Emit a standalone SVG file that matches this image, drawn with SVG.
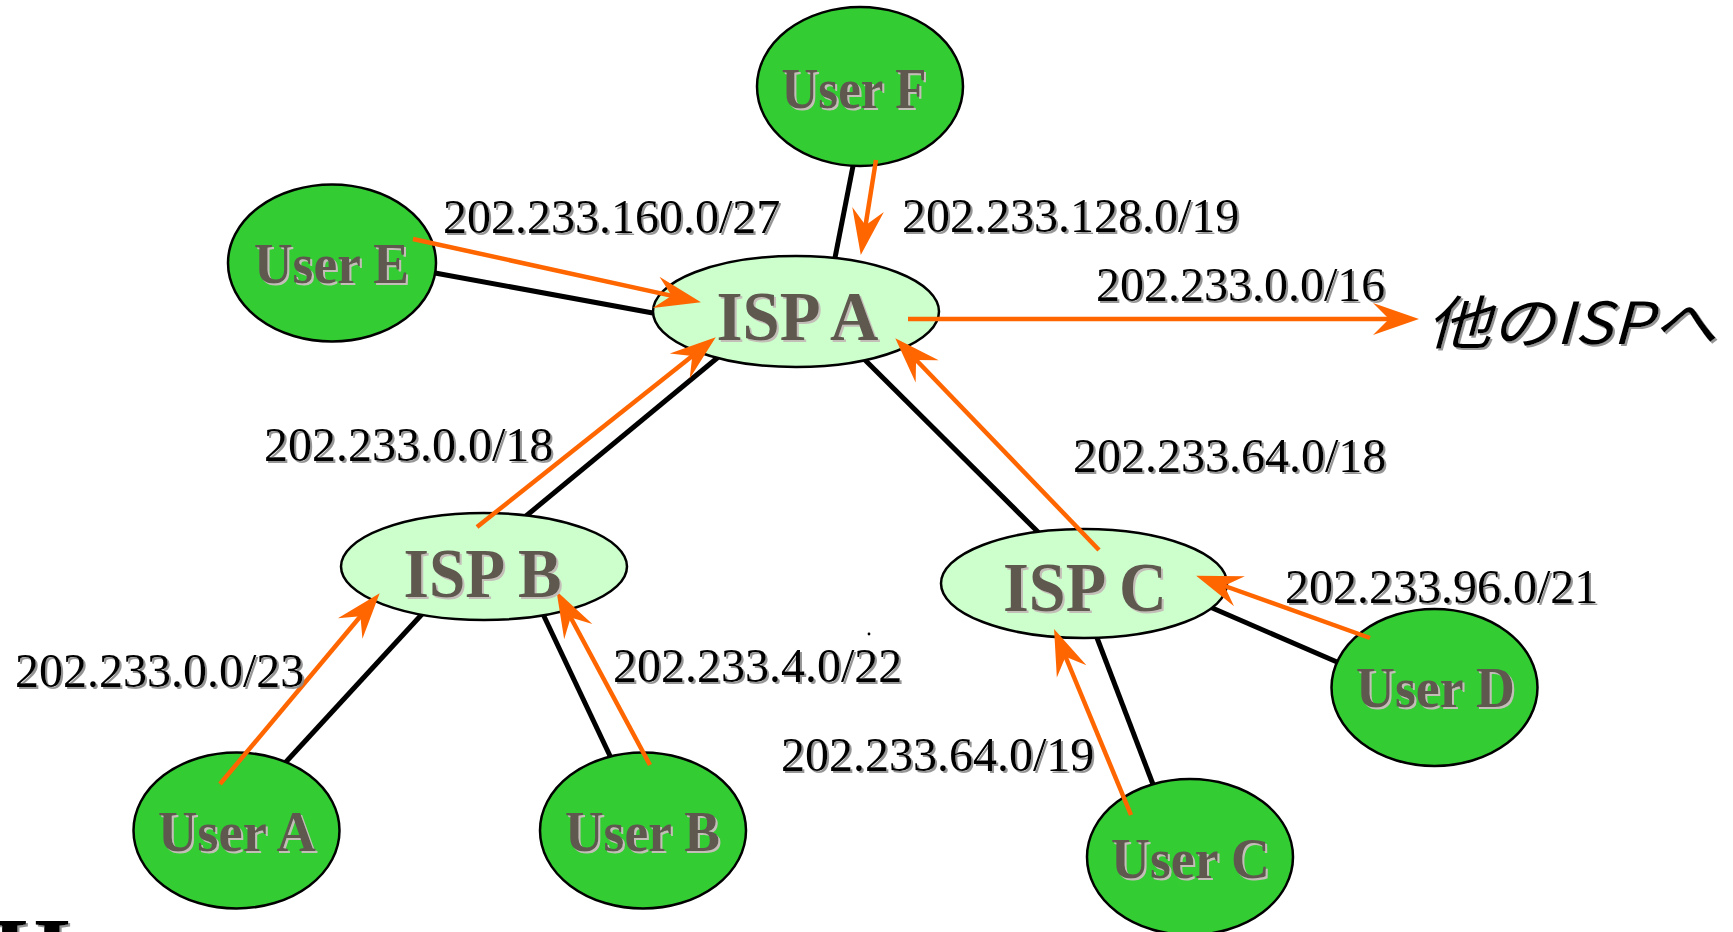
<svg xmlns="http://www.w3.org/2000/svg" width="1733" height="932" viewBox="0 0 1733 932">
  <style>
    .link { stroke: #000; stroke-width: 5; fill: none; }
    .route { stroke: #ff6600; stroke-width: 4.5; fill: none; marker-end: url(#head); }
    .user { fill: #33cc33; stroke: #000; stroke-width: 2.5; }
    .isp { fill: #ccffcc; stroke: #000; stroke-width: 2.5; }
    .name { font-family: "Liberation Serif", "Times New Roman", serif; font-weight: bold; fill: #5f5850; text-anchor: middle; filter: url(#nshadow); }
    .uname { font-size: 56px; }
    .iname { font-size: 69px; }
    .addr { font-family: "Liberation Serif", "Times New Roman", serif; font-size: 48px; fill: #000; filter: url(#tshadow); }
    .out { font-family: "Noto Sans CJK JP", "Noto Sans", sans-serif; font-size: 58px; font-style: italic; fill: #000; filter: url(#tshadow); }
  </style>
  <defs>
    <marker id="head" markerUnits="userSpaceOnUse" viewBox="-22 -18 50 36" refX="0" refY="0" markerWidth="50" markerHeight="36" orient="auto">
      <path d="M26,0 L-20,-16 L-4,0 L-20,16 Z" fill="#ff6600"/>
    </marker>
    <filter id="tshadow" x="-5%" y="-20%" width="110%" height="140%">
      <feDropShadow dx="2" dy="2" stdDeviation="0.7" flood-color="#8a8a8a" flood-opacity="0.9"/>
    </filter>
    <filter id="nshadow" x="-5%" y="-20%" width="110%" height="140%">
      <feDropShadow dx="2" dy="2" stdDeviation="0.4" flood-color="#c4beb8" flood-opacity="1"/>
    </filter>
  </defs>

  <rect width="1733" height="932" fill="#fff"/>

  <!-- physical links -->
  <g id="links">
    <line class="link" x1="853" y1="166" x2="833" y2="268"/>
    <line class="link" x1="435" y1="273" x2="680" y2="318"/>
    <line class="link" x1="722" y1="354" x2="526" y2="516"/>
    <line class="link" x1="862" y1="357" x2="1042" y2="536"/>
    <line class="link" x1="424" y1="612" x2="285" y2="763"/>
    <line class="link" x1="542" y1="612" x2="611" y2="758"/>
    <line class="link" x1="1094" y1="630" x2="1154" y2="787"/>
    <line class="link" x1="1210" y1="607" x2="1337" y2="662"/>
  </g>

  <!-- nodes -->
  <g id="user-f"><ellipse class="user" cx="860" cy="86.5" rx="103" ry="79.5"/></g>
  <g id="user-e"><ellipse class="user" cx="332" cy="263" rx="104" ry="78.5"/></g>
  <g id="isp-a"><ellipse class="isp" cx="796" cy="311.5" rx="143" ry="55.5"/></g>
  <g id="isp-b"><ellipse class="isp" cx="484" cy="566.5" rx="143" ry="53.5"/></g>
  <g id="isp-c"><ellipse class="isp" cx="1084" cy="583.5" rx="143" ry="54.5"/></g>
  <g id="user-d"><ellipse class="user" cx="1434.5" cy="687.5" rx="103" ry="78.5"/></g>
  <g id="user-a"><ellipse class="user" cx="236.5" cy="830.5" rx="103" ry="78"/></g>
  <g id="user-b"><ellipse class="user" cx="643" cy="830.5" rx="103" ry="78"/></g>
  <g id="user-c"><ellipse class="user" cx="1190" cy="857" rx="103" ry="78"/></g>

  <!-- route announcements -->
  <g id="routes">
    <line class="route" x1="876" y1="160" x2="864.9" y2="229.3"/>
    <line class="route" x1="413" y1="239" x2="675.6" y2="296.6"/>
    <line class="route" x1="477" y1="527" x2="695.4" y2="353.5"/>
    <line class="route" x1="1099" y1="550" x2="913.3" y2="357"/>
    <line class="route" x1="908" y1="319" x2="1393" y2="319"/>
    <line class="route" x1="220" y1="784" x2="363" y2="613.2"/>
    <line class="route" x1="650" y1="765" x2="568.8" y2="614"/>
    <line class="route" x1="1131" y1="815" x2="1064" y2="653"/>
    <line class="route" x1="1370" y1="638" x2="1220.6" y2="584.5"/>
  </g>

  <!-- node names -->
  <g id="names">
    <text class="name uname" x="854" y="108" textLength="145" lengthAdjust="spacingAndGlyphs">User F</text>
    <text class="name uname" x="331.5" y="283" textLength="155" lengthAdjust="spacingAndGlyphs">User E</text>
    <text class="name iname" x="797.5" y="340" textLength="162" lengthAdjust="spacingAndGlyphs">ISP A</text>
    <text class="name iname" x="482.5" y="597" textLength="158" lengthAdjust="spacingAndGlyphs">ISP B</text>
    <text class="name iname" x="1085" y="611" textLength="164" lengthAdjust="spacingAndGlyphs">ISP C</text>
    <text class="name uname" x="1435.5" y="707" textLength="159" lengthAdjust="spacingAndGlyphs">User D</text>
    <text class="name uname" x="237" y="851" textLength="158" lengthAdjust="spacingAndGlyphs">User A</text>
    <text class="name uname" x="642.5" y="851" textLength="155" lengthAdjust="spacingAndGlyphs">User B</text>
    <text class="name uname" x="1190.5" y="878" textLength="159" lengthAdjust="spacingAndGlyphs">User C</text>
  </g>

  <!-- prefix labels -->
  <g id="labels">
    <text class="addr" x="443" y="233">202.233.160.0/27</text>
    <text class="addr" x="902" y="232">202.233.128.0/19</text>
    <text class="addr" x="1096" y="301">202.233.0.0/16</text>
    <text class="addr" x="264" y="461">202.233.0.0/18</text>
    <text class="addr" x="1073" y="472">202.233.64.0/18</text>
    <text class="addr" x="1285" y="603">202.233.96.0/21</text>
    <text class="addr" x="15" y="687">202.233.0.0/23</text>
    <text class="addr" x="613" y="682">202.233.4.0/22</text>
    <text class="addr" x="781" y="771">202.233.64.0/19</text>
    <text class="out" x="1427" y="344" textLength="290" lengthAdjust="spacingAndGlyphs">他のISPへ</text>
  </g>

  <!-- stray marks -->
  <circle cx="869" cy="634" r="1.4" fill="#000"/>
  <text x="-8" y="986" font-family="Liberation Serif, serif" font-weight="bold" font-size="100" fill="#000" filter="url(#tshadow)">H</text>
</svg>
